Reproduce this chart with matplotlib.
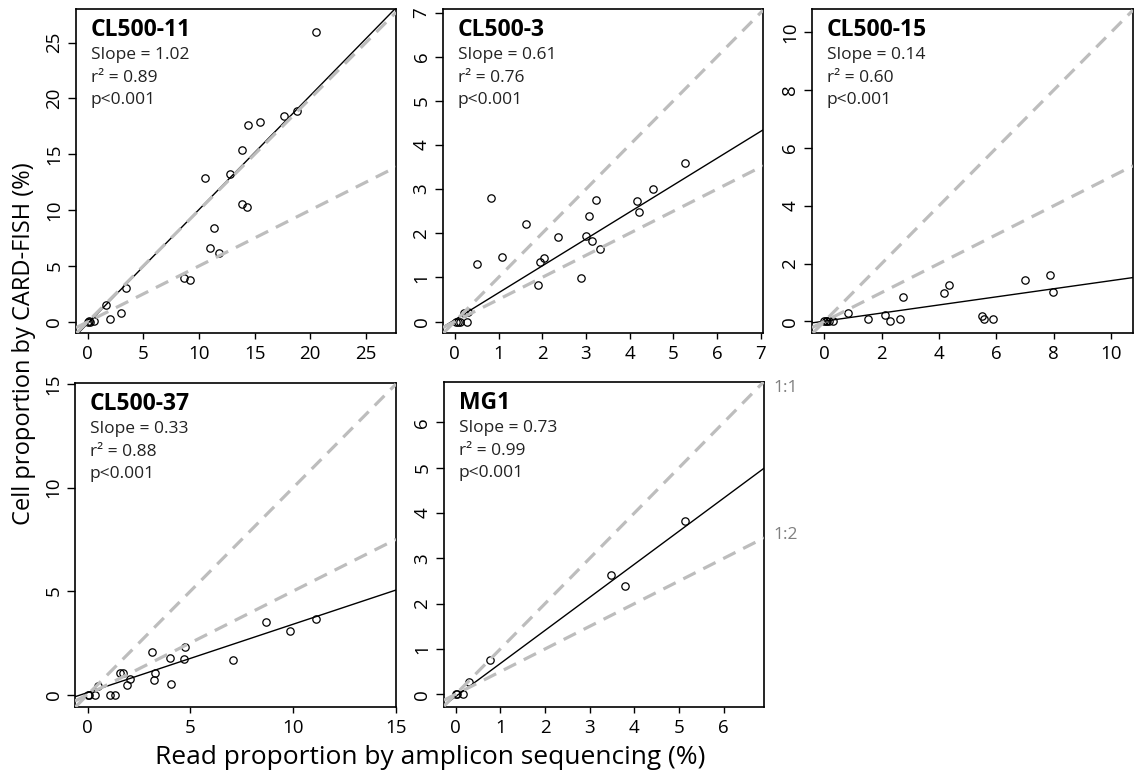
import matplotlib
matplotlib.use("Agg")
import matplotlib.pyplot as plt

plt.rcParams['font.family'] = ['Open Sans', 'DejaVu Sans']

# panel names and fit stats
names = ["CL500-11", "CL500-3", "CL500-15", "CL500-37", "MG1"]
slope_txt = ["1.02", "0.61", "0.14", "0.33", "0.73"]
r2_txt = ["0.89", "0.76", "0.60", "0.88", "0.99"]
fit_slope = [1.02, 0.61, 0.14, 0.33, 0.73]
fit_icpt = [-0.15, 0.04, 0.01, 0.10, -0.05]

# read proportion (x) and cell proportion (y), one pair per panel
cl11_x = [0, 0.1, 0.2, 0.55, 1.67, 2.03, 2.99, 3.47, 8.61, 9.15, 10.58, 11.03, 11.33,
          11.78, 12.83, 13.87, 13.90, 14.35, 14.38, 15.46, 17.67, 18.80, 20.54]
cl11_y = [0, 0.05, 0, 0.06, 1.49, 0.21, 0.75, 3.07, 3.88, 3.73, 12.88, 6.59, 8.44,
          6.17, 13.27, 15.38, 10.52, 10.32, 17.59, 17.89, 18.40, 18.87, 25.91]

cl3_x = [0.02, 0.08, 0.13, 0.29, 0.2, 0.3, 0.50, 0.83, 1.09, 1.62, 1.91, 1.95, 2.04,
         2.35, 2.88, 3.00, 3.08, 3.14, 3.24, 3.33, 4.16, 4.22, 4.53, 5.26]
cl3_y = [0, 0, 0, 0, 0.2, 0.22, 1.30, 2.80, 1.46, 2.22, 0.82, 1.35, 1.44,
         1.91, 0.98, 1.93, 2.40, 1.83, 2.76, 1.65, 2.74, 2.47, 3.01, 3.58]

cl15_x = [0, 0.06, 0.11, 0.17, 0.29, 0.81, 1.53, 2.12, 2.30, 2.63, 2.73, 4.17, 4.36,
          5.49, 5.55, 5.87, 6.99, 7.87, 7.98]
cl15_y = [0, 0, 0, 0, 0, 0.29, 0.09, 0.21, 0, 0.08, 0.84, 0.98, 1.26,
          0.20, 0.09, 0.08, 1.44, 1.59, 1.01]

cl37_x = [0, 0.08, 0.33, 0.5, 1.09, 1.35, 1.58, 1.74, 1.93, 2.05, 3.14, 3.22, 3.28,
          4.02, 4.07, 4.73, 4.70, 7.07, 8.68, 9.85, 11.12]
cl37_y = [0, 0, 0, 0.4, 0, 0, 1.06, 1.06, 0.47, 0.73, 2.05, 0.71, 1.06,
          1.77, 0.53, 2.31, 1.73, 1.69, 3.50, 3.05, 3.66]

mg1_x = [0, 0.04, 0.16, 0.31, 0.77, 3.47, 3.79, 5.13]
mg1_y = [0, 0, 0, 0.27, 0.75, 2.63, 2.40, 3.83]

xs = [cl11_x, cl3_x, cl15_x, cl37_x, mg1_x]
ys = [cl11_y, cl3_y, cl15_y, cl37_y, mg1_y]

xlims = [(-1.05, 27.7), (-0.27, 7.05), (-0.43, 10.76), (-0.62, 15.0), (-0.26, 6.9)]
ylims = [(-1.0, 28.0), (-0.26, 7.08), (-0.40, 10.8), (-0.60, 15.05), (-0.28, 6.89)]
ticks = [range(0, 26, 5), range(0, 8), range(0, 11, 2), range(0, 16, 5), range(0, 7)]

# axes boxes in pixels: left, top, right, bottom
W, H = 1135, 776
boxes = [(76, 9, 396, 333), (443, 9, 763, 333), (812, 9, 1133, 333),
         (75, 383, 396, 707), (444, 382, 764, 707)]

fig = plt.figure(figsize=(W / 100, H / 100), dpi=100)

gray = '#bdbdbd'
for i in range(5):
    l, t, r, b = boxes[i]
    ax = fig.add_axes([l / W, 1 - b / H, (r - l) / W, (b - t) / H])
    ax.plot(xs[i], ys[i], 'o', mfc='none', mec='black', ms=5.3, mew=0.9, zorder=3)
    ax.axline((0, fit_icpt[i]), slope=fit_slope[i], color='black', lw=1.0, zorder=4)
    ax.axline((0, 0), slope=1, color=gray, lw=2.3, dashes=(4.3, 2.7), zorder=5)
    ax.axline((0, 0), slope=0.5, color=gray, lw=2.3, dashes=(4.3, 2.7), zorder=5)
    ax.set_xlim(xlims[i])
    ax.set_ylim(ylims[i])
    ax.set_xticks(list(ticks[i]))
    ax.set_yticks(list(ticks[i]))
    ax.tick_params(direction='out', width=1, labelsize=13.5, colors='black')
    ax.tick_params(axis='x', length=4, pad=4.5)
    ax.tick_params(axis='y', length=6, pad=3)
    plt.setp(ax.get_yticklabels(), rotation=90, va='center')
    for s in ax.spines.values():
        s.set_linewidth(1.2)

    ax.annotate(names[i], (0, 1), xycoords='axes fraction', xytext=(10.5, -19.5),
                textcoords='offset points', fontsize=16.5, fontweight='bold', va='baseline')
    ax.annotate("Slope = " + slope_txt[i], (0, 1), xycoords='axes fraction',
                xytext=(10.5, -36), textcoords='offset points', fontsize=12.5,
                va='baseline', color='#222222')
    ax.annotate("r\u00b2 = " + r2_txt[i], (0, 1), xycoords='axes fraction',
                xytext=(10.5, -52.5), textcoords='offset points', fontsize=12.5,
                va='baseline', color='#222222')
    ax.annotate("p<0.001", (0, 1), xycoords='axes fraction',
                xytext=(10.5, -68.5), textcoords='offset points', fontsize=12.5,
                va='baseline', color='#222222')

    if i == 4:
        xr = xlims[i][1]
        ax.annotate("1:1", (xr, xr * 1), xytext=(6.5, -5), textcoords='offset points',
                    fontsize=12.5, color='#808080', va='center', annotation_clip=False)
        ax.annotate("1:2", (xr, xr * 0.5), xytext=(6.5, 2), textcoords='offset points',
                    fontsize=12.5, color='#808080', va='center', annotation_clip=False)

fig.text(430 / W, 1 - 757 / H, "Read proportion by amplicon sequencing (%)",
         ha='center', va='center', fontsize=19)
fig.text(24 / W, 1 - 344 / H, "Cell proportion by CARD-FISH (%)",
         ha='center', va='center', rotation=90, fontsize=17)

fig.savefig("out.png", dpi=100)
